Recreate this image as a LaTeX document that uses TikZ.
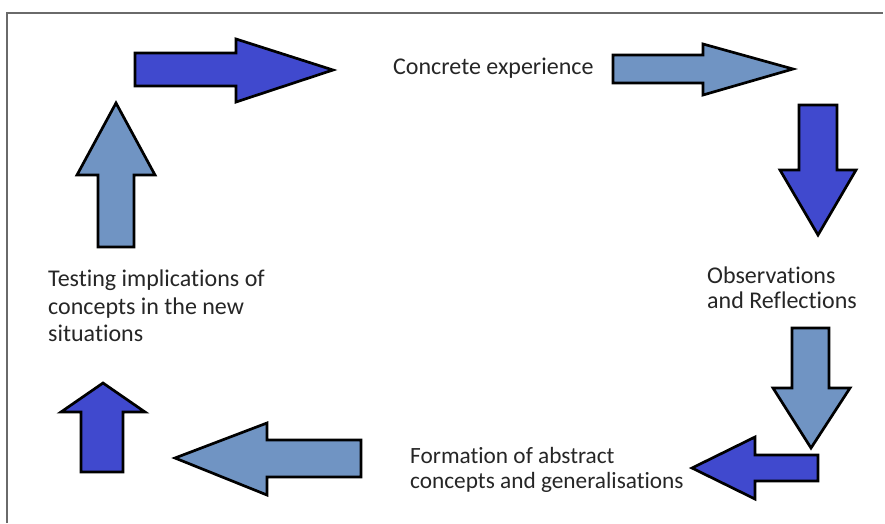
\documentclass[tikz,border=0pt]{standalone}
\usepackage{fontspec}
\setmainfont[Ligatures=NoCommon]{Carlito}
\usetikzlibrary{positioning}
\definecolor{cyclebg}{HTML}{FFFFFF}
\definecolor{deepblue}{HTML}{4049CE}
\definecolor{softblue}{HTML}{7094C3}
\definecolor{stepink}{HTML}{262626}
\definecolor{framegray}{HTML}{6A6A6A}
\tikzset{
  darkarrow/.style={draw=black, line width=2.7pt, fill=deepblue, line join=miter},
  lightarrow/.style={draw=black, line width=2.7pt, fill=softblue, line join=miter},
  stagetext/.style={inner sep=0pt, anchor=west, align=left, text=stepink,
                    font=\fontsize{24}{25}\selectfont},
  framerule/.style={draw=framegray, line width=1.5pt}}

\begin{document}
\begin{tikzpicture}[x=1pt, y=-1pt]
  \useasboundingbox[fill=cyclebg] (0,0) rectangle (885,523);
  % frame lines
  \draw[framerule] (7,523) -- (7,13) -- (883,13);

  % stage labels
  \node[stagetext] (concrete) at (393,68) {Concrete experience};
  \node[stagetext] (observe) at (707,288) {Observations\\and Reflections};
  \node[stagetext, font=\fontsize{23.3}{25}\selectfont] (abstract) at (410,470)
    {Formation of abstract\\concepts and generalisations};
  \node[stagetext, font=\fontsize{24}{27.5}\selectfont] (testing) at (48,306)
    {Testing implications of\\concepts in the new\\situations};

  % block arrows round the cycle
  \draw[darkarrow] (135,53) -- (236,53) -- (236,39) -- (333,70) -- (236,102) -- (236,86) -- (135,86) -- cycle;
  \draw[lightarrow] (613,55) -- (703,55) -- (703,44) -- (793,69) -- (703,95) -- (703,83) -- (613,83) -- cycle;
  \draw[darkarrow] (799,105) -- (837,105) -- (837,170) -- (856,170) -- (818,235) -- (780,170) -- (799,170) -- cycle;
  \draw[lightarrow] (792,328) -- (829,328) -- (829,388) -- (850,388) -- (811,448) -- (773,388) -- (792,388) -- cycle;
  \draw[darkarrow] (818,455) -- (755,455) -- (755,437) -- (692,468) -- (755,499) -- (755,481) -- (818,481) -- cycle;
  \draw[lightarrow] (361,440) -- (267,440) -- (267,423) -- (175,458) -- (267,495) -- (267,477) -- (361,477) -- cycle;
  \draw[darkarrow] (81,472) -- (81,412) -- (61,412) -- (103,383) -- (145,412) -- (123,412) -- (123,472) -- cycle;
  \draw[lightarrow] (98,247) -- (98,175) -- (77,175) -- (116,103) -- (155,175) -- (134,175) -- (134,247) -- cycle;
\end{tikzpicture}
\end{document}
